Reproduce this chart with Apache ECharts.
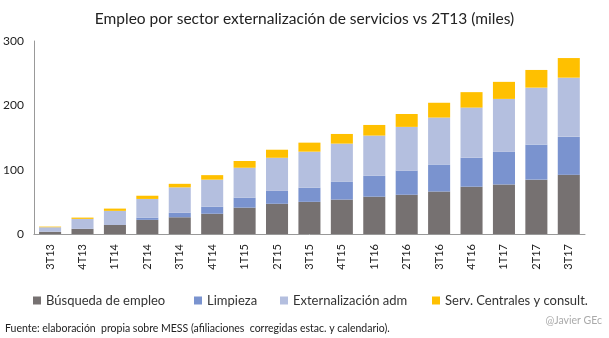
<!DOCTYPE html>
<html><head><meta charset="utf-8">
<script src="https://cdn.jsdelivr.net/npm/echarts@6/dist/echarts.min.js"></script>
<style>html,body{margin:0;padding:0;background:#fff}#c{width:609px;height:338px}</style>
</head><body><div id="c"></div>
<script>
const categories = ['3T13','4T13','1T14','2T14','3T14','4T14','1T15','2T15','3T15','4T15','1T16','2T16','3T16','4T16','1T17','2T17','3T17'];
const busqueda = [3.5, 8, 14, 22, 26, 31.5, 41, 47, 50, 53.5, 58, 61, 66, 73.5, 77, 84.5, 92];
const limpieza = [0, 0, 0, 3.5, 7, 11, 15.5, 20, 22, 28, 32.5, 37.5, 42, 45, 51, 54.5, 59];
const externalizacion = [7, 15.5, 22, 29, 39.5, 42, 46.5, 51.5, 56, 59, 62.5, 68, 73, 78, 82, 88.5, 92];
const servCentrales = [1, 2, 3.5, 5, 5.5, 7, 10.5, 12.5, 14, 15, 16.5, 20, 23, 24, 26.5, 27.5, 30.5];
const seriesNames = ['Búsqueda de empleo','Limpieza','Externalización adm','Serv. Centrales y consult.'];
const yTicks = [0, 100, 200, 300];

const colors = ['#767171','#7a93cf','#b4bfdf','#ffc000'];
const font = 'Lato, "Noto Sans", sans-serif';
const data = [busqueda, limpieza, externalizacion, servCentrales];
const legendLeft = [28, 189, 275, 427];

const chart = echarts.init(document.getElementById('c'));
chart.setOption({
  animation: false,
  textStyle: {fontFamily: font},
  title: {text: 'Empleo por sector externalización de servicios vs 2T13 (miles)', left: 'center', top: 6,
    textStyle: {fontSize: 15.5, fontWeight: 'normal', color: '#222', fontFamily: font}},
  legend: seriesNames.map((n, i) => ({
    data: [n], left: legendLeft[i], top: 289, itemWidth: 8, itemHeight: 8, itemGap: 4,
    icon: 'rect', textStyle: {fontSize: 13, color: '#333', fontFamily: font}
  })),
  graphic: [
    {type: 'text', left: 5, top: 323, style: {text: 'Fuente: elaboración  propia sobre MESS (afiliaciones  corregidas estac. y calendario).', fontSize: 10.5, fill: '#222', fontFamily: font}},
    {type: 'text', right: 7, top: 315, style: {text: '@Javier GEc', fontSize: 10.5, fill: '#aaa', fontFamily: font}}
  ],
  grid: {left: 32, right: 24, top: 41, bottom: 104},
  xAxis: {type: 'category', data: categories,
    axisLine: {lineStyle: {color: '#999'}}, axisTick: {show: false},
    axisLabel: {rotate: 90, fontSize: 11, color: '#222', margin: 10, interval: 0}},
  yAxis: {type: 'value', min: 0, max: 300, interval: 100,
    axisLine: {show: true, lineStyle: {color: '#999'}}, axisTick: {show: false}, splitLine: {show: false},
    axisLabel: {fontSize: 12, color: '#222', margin: 10, formatter: v => yTicks.includes(v) ? String(v) : ''}},
  series: seriesNames.map((n, i) => ({
    name: n, type: 'bar', stack: 'total', data: data[i], barWidth: '68%',
    itemStyle: {color: colors[i]}
  }))
});
</script></body></html>
